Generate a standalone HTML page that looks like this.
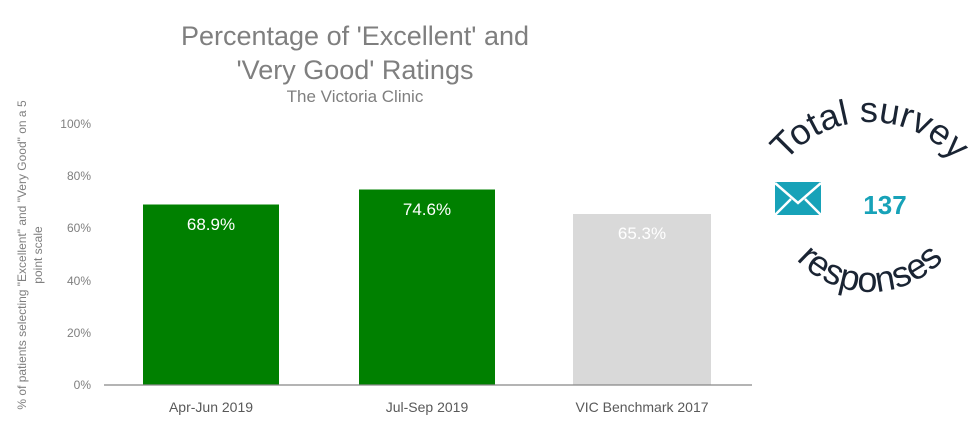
<!DOCTYPE html>
<html><head><meta charset="utf-8"><style>
body{margin:0;background:#fff;}
svg{display:block;font-family:"Liberation Sans",sans-serif;}
</style></head><body>
<svg width="978" height="425" viewBox="0 0 978 425">
<text x="355" y="45" font-size="27" fill="#7f7f7f" text-anchor="middle">Percentage of 'Excellent' and</text>
<text x="355" y="79" font-size="27" fill="#7f7f7f" text-anchor="middle">'Very Good' Ratings</text>
<text x="355" y="102" font-size="17" fill="#7f7f7f" text-anchor="middle">The Victoria Clinic</text>
<g font-size="12" fill="#7f7f7f" text-anchor="end">
<text x="91" y="128">100%</text><text x="91" y="180">80%</text><text x="91" y="232">60%</text>
<text x="91" y="285">40%</text><text x="91" y="337">20%</text><text x="91" y="389">0%</text>
</g>
<g font-size="12" fill="#7f7f7f" text-anchor="middle">
<text transform="translate(26,255) rotate(-90)">% of patients selecting "Excellent" and "Very Good" on a 5</text>
<text transform="translate(42,255) rotate(-90)">point scale</text>
</g>
<rect x="143" y="204.5" width="136" height="180.5" fill="#008000"/>
<rect x="359" y="189.5" width="136" height="195.5" fill="#008000"/>
<rect x="573" y="214" width="138" height="171" fill="#d9d9d9"/>
<line x1="104" y1="385" x2="752" y2="385" stroke="#888" stroke-width="1.3"/>
<g font-size="17" fill="#fff" text-anchor="middle">
<text x="211" y="230">68.9%</text><text x="427" y="215">74.6%</text><text x="642" y="239">65.3%</text>
</g>
<g font-size="14" fill="#595959" text-anchor="middle">
<text x="211" y="412">Apr-Jun 2019</text><text x="427" y="412">Jul-Sep 2019</text><text x="642" y="412">VIC Benchmark 2017</text>
</g>
<defs>
<path id="top" d="M 760 232 A 110 110 0 0 1 980 232"/>
<path id="bot" d="M 770 192 A 100 100 0 0 0 970 192"/>
</defs>
<text font-size="36" fill="#1a2433" letter-spacing="0"><textPath href="#top" startOffset="50%" text-anchor="middle">Total survey</textPath></text>
<text font-size="36" fill="#1a2433" letter-spacing="0"><textPath href="#bot" startOffset="50%" text-anchor="middle">responses</textPath></text>
<g>
<rect x="775" y="182" width="46" height="33" fill="#17a2b8"/>
<polyline points="775,183 798,203 821,183" fill="none" stroke="#fff" stroke-width="2.5"/>
<line x1="775" y1="215" x2="791" y2="199" stroke="#fff" stroke-width="2.5"/>
<line x1="821" y1="215" x2="805" y2="199" stroke="#fff" stroke-width="2.5"/>
</g>
<text x="885" y="214" font-size="26" font-weight="bold" fill="#17a2b8" text-anchor="middle">137</text>
</svg>
</body></html>
